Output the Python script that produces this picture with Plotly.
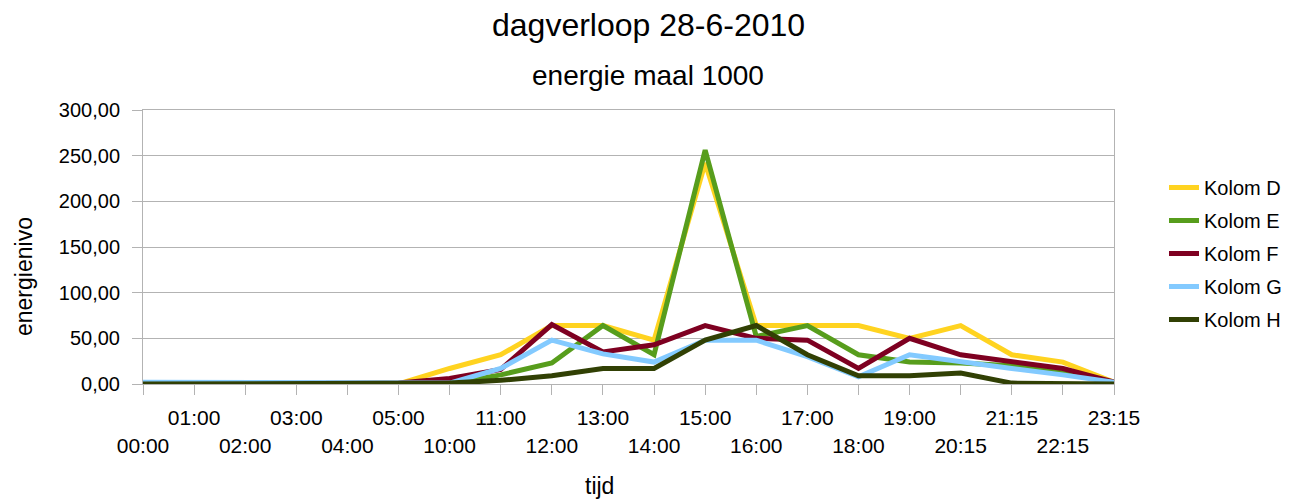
import plotly.graph_objects as go

categories = ["00:00", "01:00", "02:00", "03:00", "04:00", "05:00", "10:00", "11:00",
              "12:00", "13:00", "14:00", "15:00", "16:00", "17:00", "18:00", "19:00",
              "20:15", "21:15", "22:15", "23:15"]

kolom_d = [0, 0, 0, 0, 0, 0, 17, 32, 64, 64, 48, 242, 64, 64, 64, 50, 64, 32, 24, 2]
kolom_e = [0, 0, 0, 0, 0, 0, 0, 10, 23, 64, 32, 256, 52, 64, 32, 24, 23, 20, 12, 2]
kolom_f = [0, 0, 0, 0, 1, 1, 6, 16, 65, 35, 43, 64, 50, 48, 17, 50, 32, 24, 17, 2]
kolom_g = [2, 2, 1, 1, 1, 1, 1, 17, 48, 33, 24, 48, 48, 30, 8, 32, 24, 17, 10, 2]
kolom_h = [0, 0, 1, 1, 1, 1, 1, 4, 9, 17, 17, 48, 64, 32, 9, 9, 12, 1, 1, 0]

series_names = ["Kolom D", "Kolom E", "Kolom F", "Kolom G", "Kolom H"]
series_values = [kolom_d, kolom_e, kolom_f, kolom_g, kolom_h]
series_colors = ["#ffd320", "#579d1c", "#7e0021", "#83caff", "#314004"]

title_text = "dagverloop 28-6-2010"
subtitle_text = "energie maal 1000"
x_title = "tijd"
y_title = "energienivo"

FONT = "Liberation Sans"
GRID = "#b3b3b3"

# page size and the browser's default 8px body margin
PW, PH = 1295, 499
OFF = 8
W, H = PW - OFF, PH - OFF

# plot area in page pixels
L, R, T, B = 143, 1114, 110, 384


def xp(px):
    return (px - L) / (R - L)


def yp(py):
    return (B - py) / (B - T)


fig = go.Figure()
for name, vals, col in zip(series_names, series_values, series_colors):
    fig.add_trace(go.Scatter(
        x=categories, y=vals, name=name, mode="lines",
        line=dict(color=col, width=5), legendgroup=name,
    ))

ticktext = [("<br>" + c) if i % 2 == 0 else c for i, c in enumerate(categories)]

fig.update_layout(
    width=W, height=H,
    margin=dict(l=L - OFF, r=PW - R, t=T - OFF, b=PH - B, autoexpand=False),
    paper_bgcolor="white", plot_bgcolor="white",
    font=dict(family=FONT, size=20, color="#000000"),
    separators=",.",
    showlegend=True,
    legend=dict(
        xref="container", yref="container",
        x=(1164 - OFF) / W, y=1 - (168 - OFF) / H, xanchor="left", yanchor="top",
        font=dict(family=FONT, size=20, color="#000000"),
        tracegroupgap=4, itemwidth=30,
        bgcolor="rgba(0,0,0,0)",
    ),
    xaxis=dict(
        type="category", range=[0, len(categories) - 1],
        tickmode="array", tickvals=categories, ticktext=ticktext,
        tickangle=0, ticks="outside", ticklen=10, tickcolor=GRID,
        showgrid=False, showline=True, linecolor=GRID, linewidth=1, mirror=True,
        tickfont=dict(family=FONT, size=21, color="#000000"),
        ticklabelstandoff=5, zeroline=False,
    ),
    yaxis=dict(
        range=[0, 300], dtick=50, tickformat=".2f",
        ticks="outside", ticklen=10, tickcolor=GRID,
        showgrid=True, gridcolor=GRID, gridwidth=1,
        showline=True, linecolor=GRID, linewidth=1, mirror=True,
        tickfont=dict(family=FONT, size=20, color="#000000"),
        ticklabelstandoff=8, zeroline=False,
    ),
    annotations=[
        dict(text=title_text, x=xp(648), y=yp(25), xref="paper", yref="paper",
             xanchor="center", yanchor="middle", showarrow=False,
             font=dict(family=FONT, size=32, color="#000000")),
        dict(text=subtitle_text, x=xp(648), y=yp(75), xref="paper", yref="paper",
             xanchor="center", yanchor="middle", showarrow=False,
             font=dict(family=FONT, size=28, color="#000000")),
        dict(text=y_title, x=xp(24), y=yp(277), xref="paper", yref="paper",
             xanchor="center", yanchor="middle", showarrow=False, textangle=-90,
             font=dict(family=FONT, size=23, color="#000000")),
        dict(text=x_title, x=xp(599), y=yp(486), xref="paper", yref="paper",
             xanchor="center", yanchor="middle", showarrow=False,
             font=dict(family=FONT, size=23, color="#000000")),
    ],
)

fig.write_html("out.html")
